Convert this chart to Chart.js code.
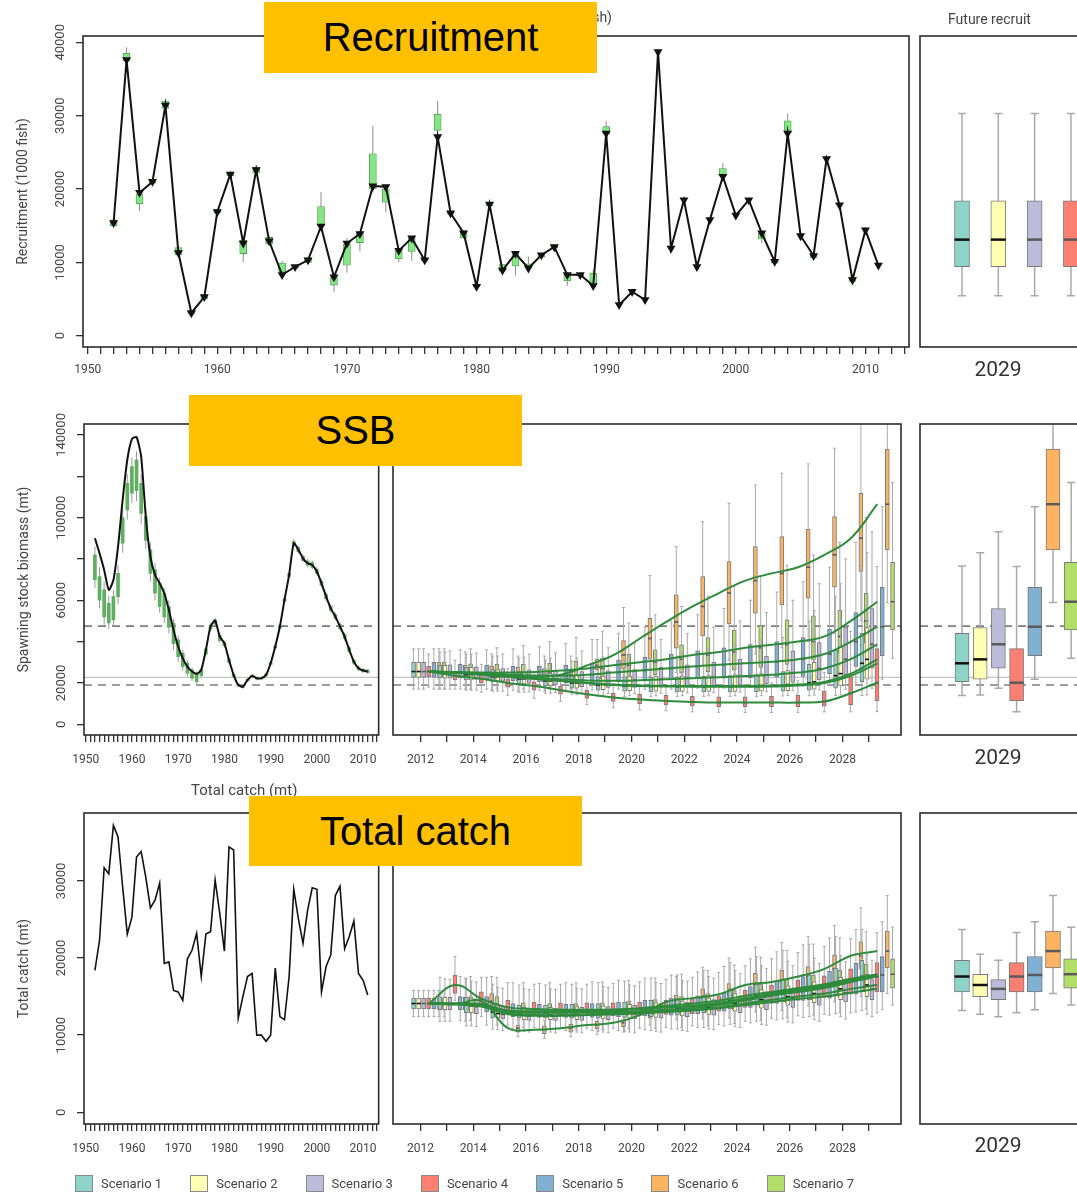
<!DOCTYPE html>
<html>
<head>
<meta charset="utf-8">
<title>Recruitment, SSB and total catch projections</title>
<script src="https://cdn.jsdelivr.net/npm/chart.js@4.4.1/dist/chart.umd.min.js"></script>
<style>
  html, body { margin: 0; padding: 0; background: #fff; }
  body { position: relative; width: 1077px; height: 1193px; overflow: hidden; font-family: Roboto, "Open Sans", sans-serif; color: #3a3a3a; }
  .pane { position: absolute; }
  .tag { position: absolute; background: #ffc000; color: #000; font: 40px "Liberation Sans", Arial, sans-serif; display: flex; align-items: center; justify-content: center; z-index: 5; }
  .txt { position: absolute; white-space: nowrap; font-size: 14px; color: #444; }
  .yr { position: absolute; left: 958px; width: 80px; text-align: center; font-size: 21px; color: #333; }
  #legend { position: absolute; left: 75px; top: 1175px; display: flex; font-size: 13px; color: #444; }
  #legend div { width: 115.3px; display: flex; align-items: center; }
  #legend span { display: inline-block; width: 18px; height: 17px; border: 1px solid #8a8a8a; box-sizing: border-box; margin-right: 8px; }
</style>
</head>
<body>
<div class="pane" style="left:0;top:0"><canvas id="recHist" width="915" height="392"></canvas></div>
<div class="pane" style="left:905px;top:0"><canvas id="recFut" width="300" height="392"></canvas></div>
<div class="pane" style="left:0;top:392px"><canvas id="ssbHist" width="388" height="400"></canvas></div>
<div class="pane" style="left:388px;top:392px"><canvas id="ssbProj" width="520" height="400"></canvas></div>
<div class="pane" style="left:905px;top:392px"><canvas id="ssbFut" width="300" height="400"></canvas></div>
<div class="pane" style="left:0;top:795px"><canvas id="catchHist" width="388" height="398"></canvas></div>
<div class="pane" style="left:388px;top:795px"><canvas id="catchProj" width="520" height="398"></canvas></div>
<div class="pane" style="left:905px;top:795px"><canvas id="catchFut" width="300" height="398"></canvas></div>

<div class="txt" style="right:465px;top:9px">Recruitment (1000 fish)</div>
<div class="txt" style="left:948px;top:11px">Future recruit</div>
<div class="txt" style="left:191px;top:781px;font-size:15px">Total catch (mt)</div>
<div class="yr" style="top:357px">2029</div>
<div class="yr" style="top:745px">2029</div>
<div class="yr" style="top:1133px">2029</div>

<div class="tag" style="left:264px;top:2px;width:333px;height:71px">Recruitment</div>
<div class="tag" style="left:189px;top:395px;width:333px;height:71px">SSB</div>
<div class="tag" style="left:249px;top:796px;width:333px;height:70px">Total catch</div>

<div id="legend"></div>

<script>
// ---------- data (thousands: fish for recruitment, mt for SSB and catch) ----------
const histYears = [1952,1953,1954,1955,1956,1957,1958,1959,1960,1961,1962,1963,1964,1965,1966,1967,1968,1969,1970,1971,
  1972,1973,1974,1975,1976,1977,1978,1979,1980,1981,1982,1983,1984,1985,1986,1987,1988,1989,1990,1991,
  1992,1993,1994,1995,1996,1997,1998,1999,2000,2001,2002,2003,2004,2005,2006,2007,2008,2009,2010,2011]
const histTickLabels = [1950,1960,1970,1980,1990,2000,2010]
const projYears = [2012,2013,2014,2015,2016,2017,2018,2019,2020,2021,2022,2023,2024,2025,2026,2027,2028,2029]
const projTickLabels = [2012,2014,2016,2018,2020,2022,2024,2026,2028]
const scenarioNames = ["Scenario 1","Scenario 2","Scenario 3","Scenario 4","Scenario 5","Scenario 6","Scenario 7"]
const scenarioColors = ["#8dd3c7","#ffffb3","#bebada","#fb8072","#80b1d3","#fdb462","#b3de69"]
const scenarioPos = [1,2,3,4,5,6,7]

const recTicks = [0,10,20,30,40]
const ssbTicks = [0,20,40,60,80,100,120,140]
const ssbTickLabels = [0,20,60,100,140]
const catchTicks = [0,10,20,30]
const ssbRefPoints = [47.5, 19.0]
const ssbRefLimit = 22.7

// recruitment 1952-2011
const recEst = [15.4,37.6,19.5,21.0,31.4,11.3,3.1,5.3,16.9,22.0,12.6,22.6,12.9,8.3,9.4,10.3,14.9,8.0,12.6,13.9,
  20.4,20.3,11.6,13.3,10.3,27.1,16.7,14.0,6.7,17.9,8.9,11.2,9.2,11.0,12.1,8.3,8.3,6.8,27.6,4.2,
  6.0,4.9,38.7,11.9,18.5,9.4,15.8,21.7,16.4,18.5,14.0,10.1,27.6,13.6,10.9,24.1,17.8,7.6,14.4,9.6]
const recQ1 = [15.0,37.5,18.0,20.8,31.0,11.0,3.0,5.0,16.7,21.8,11.2,22.2,12.5,8.7,9.2,10.0,15.0,6.9,9.6,12.7,
  20.0,18.2,10.5,11.5,10.2,28.0,16.6,13.3,6.7,17.7,8.8,9.5,9.2,10.7,12.0,7.5,8.2,7.0,27.5,null,
  null,null,null,null,null,null,null,21.8,null,null,13.2,9.9,27.6,null,10.6,null,null,7.4,null,null]
const recQ3 = [15.8,38.5,19.3,21.3,32.0,12.0,3.4,5.5,17.2,22.2,13.0,23.0,13.4,9.9,9.6,10.6,17.6,8.0,12.5,14.0,
  24.8,20.0,11.6,13.3,10.6,30.2,16.9,14.3,7.0,18.2,9.7,11.2,9.8,11.2,12.4,8.5,8.5,8.5,28.5,null,
  null,null,null,null,null,null,null,22.8,null,null,14.0,10.3,29.3,null,11.0,null,null,8.0,null,null]
const recLo = [15.0,36.5,17.0,20.8,31.0,11.0,3.0,5.0,16.7,21.8,10.0,22.2,12.5,8.7,9.2,10.0,14.5,6.0,8.6,11.5,
  19.5,16.8,10.0,10.2,10.2,27.5,16.6,13.3,6.7,17.7,8.8,8.2,9.2,10.7,12.0,6.8,8.2,7.0,27.5,null,
  null,null,null,null,null,null,null,21.8,null,null,12.6,9.9,27.6,null,10.6,null,null,7.4,null,null]
const recHi = [15.8,39.3,19.3,21.3,32.2,12.0,3.4,5.5,17.2,22.2,13.2,23.2,13.6,10.2,9.6,10.6,19.6,8.0,13.3,14.2,
  28.6,20.2,11.6,13.5,10.6,32.0,16.9,14.3,7.0,18.4,9.7,11.2,10.8,11.2,12.4,8.5,8.5,9.0,29.3,null,
  null,null,null,null,null,null,null,23.5,null,null,14.0,10.3,30.3,null,11.0,null,null,8.0,null,null]

// future recruitment (2029), one box per scenario
const recFutLo = [5.45,5.45,5.45,5.45,5.45,5.45,5.45]
const recFutQ1 = [9.4,9.4,9.4,9.4,9.4,9.4,9.4]
const recFutMed = [13.1,13.1,13.1,13.1,13.1,13.1,13.1]
const recFutQ3 = [18.4,18.4,18.4,18.4,18.4,18.4,18.4]
const recFutHi = [30.3,30.3,30.3,30.3,30.3,30.3,30.3]

// spawning stock biomass 1952-2011
const ssbEst = [90.0,82.7,74.7,65.0,69.8,86.0,108.6,128.0,138.0,139.0,129.5,100.5,81.1,72.3,68.2,63.4,55.3,45.6,37.6,31.9,
  27.9,25.5,24.4,26.3,36.0,47.3,50.2,42.4,39.2,31.1,23.9,19.0,18.2,21.4,23.4,22.3,22.3,23.9,29.5,37.6,
  47.3,60.2,72.3,87.6,84.4,80.3,77.9,77.1,73.9,68.2,61.8,56.1,52.1,47.3,42.4,36.0,30.3,27.1,26.0,25.5]
const ssbHistQ1 = [70,60,52,49,50.5,61.8,87.6,103.7,111.8,113,102,89,73,63.4,57,52,47,39,32.7,27.9,
  24.7,22.3,20.6,23.5,34,46,48.5,40.5,38,30,23,18.5,17.7,21,23,21.8,21.8,23.5,29,37,
  46.5,59.5,71.5,86.5,83.5,79.3,77,76,73,67.3,60.8,55.2,51.2,46.4,41.5,35.2,29.6,26.5,25.4,25]
const ssbHistQ3 = [82,71.5,65,58.5,61.8,73,100,116.6,124.7,128,116.6,100.5,84.4,74.7,68.2,63.4,57,48.9,40.8,34.4,
  29.5,26.3,24.7,26.5,36.5,48,50.5,43,39.5,31.5,24.2,19.5,18.6,21.8,23.8,22.6,22.6,24.3,30,38,
  47.8,60.8,73,88.5,85.5,81.3,79,78.2,75,69.2,62.8,57.1,53.1,48.2,43.4,37,31,27.7,26.6,26.2]
const ssbHistLo = [66,56,48,46,47,58,83,99,107,108,97,85,69,60,54,49,44,36,30,26,
  23,21,19.5,22.5,33,45,47.5,39.5,37,29,22.3,18,17.2,20.5,22.5,21.3,21.3,23,28.5,36.4,
  46,58.8,70.8,85.5,82.5,78.3,76,75,72,66.3,59.8,54.2,50.2,45.4,40.5,34.3,28.8,25.8,24.8,24.4]
const ssbHistHi = [86,76,69,62,65,77,104,121,129,132,121,104,88,78,71,66,60,51,43,36,
  31,27.5,25.5,27.3,37.3,49,51.5,44,40.5,32.3,25,20,19,22.3,24.3,23,23,24.8,30.5,38.6,
  48.5,61.5,73.8,89.5,86.5,82.3,80,79.2,76,70.2,63.8,58.1,54.1,49.2,44.4,38,31.8,28.4,27.2,26.8]

// SSB projections 2012-2029, one row per scenario
const ssbMed = [
  [25.5,25.0,24.0,23.0,22.0,21.0,20.0,19.0,18.5,18.3,18.2,18.2,18.2,18.3,18.8,20.0,23.5,29.5],
  [25.5,25.0,24.0,23.0,22.0,21.0,20.0,19.2,18.8,18.6,18.5,18.5,18.5,18.7,19.2,20.5,24.5,31.4],
  [25.5,25.0,24.2,23.3,22.5,21.8,21.2,21.0,21.3,21.8,22.3,22.8,23.3,23.9,25.0,27.0,31.5,38.7],
  [25.5,23.5,22.0,20.0,18.5,16.5,14.5,13.0,12.0,11.3,10.8,10.5,10.5,10.5,10.5,11.0,15.0,20.1],
  [25.5,25.0,24.5,24.0,23.5,23.5,24.0,25.0,26.0,27.0,28.0,28.8,29.5,30.2,31.5,34.0,40.0,47.2],
  [25.5,25.0,24.5,24.0,23.5,24.0,28.5,33.5,41.5,49.5,57.0,63.5,69.5,73.0,76.0,82.0,90.0,106.5],
  [25.5,25.3,25.0,25.0,25.3,26.0,27.0,28.5,30.0,31.5,33.5,35.0,37.0,38.5,40.0,42.5,50.0,59.3]]
const ssbQ1 = [
  [22.7,22.3,21.5,20.5,19.5,18.5,17.5,16.5,16.0,15.8,15.7,15.7,15.7,15.8,16.0,16.5,17.5,20.6],
  [22.7,22.3,21.5,20.5,19.5,18.5,17.5,16.7,16.2,16.0,15.9,15.9,15.9,16.0,16.3,17.0,18.5,21.8],
  [22.7,22.3,21.7,20.8,19.8,19.0,18.2,17.8,17.8,18.0,18.3,18.7,19.0,19.5,20.3,21.5,24.0,27.1],
  [23.0,21.5,20.0,18.0,16.5,14.5,12.5,11.0,10.0,9.3,8.8,8.5,8.5,8.5,8.5,8.7,9.5,11.4],
  [22.7,22.5,22.0,21.0,20.5,20.0,20.0,20.5,21.0,21.5,22.0,22.3,22.5,22.8,23.2,24.5,28.0,33.2],
  [22.7,22.3,21.8,21.0,20.5,21.8,26.3,26.6,31.5,36.8,42.7,48.5,53.7,57.7,61.0,66.3,73.9,84.4],
  [22.8,22.5,22.0,21.5,21.3,21.5,22.0,23.0,24.0,24.7,25.5,26.3,27.5,29.0,31.0,34.4,39.2,45.6]]
const ssbQ3 = [
  [30.0,28.5,27.5,26.5,25.5,24.5,23.5,23.0,23.0,23.0,23.0,23.2,23.5,24.0,25.5,29.0,36.0,44.0],
  [30.0,28.5,27.5,26.5,25.5,24.5,23.7,23.3,23.3,23.3,23.4,23.6,24.0,24.5,26.0,30.0,38.0,46.8],
  [30.0,28.7,27.8,27.0,26.3,25.8,25.5,25.8,26.5,27.5,28.7,30.0,31.5,33.0,35.5,39.5,47.0,56.0],
  [28.0,25.5,24.0,22.0,20.5,18.5,16.5,15.0,14.5,14.0,13.5,13.3,13.3,13.5,14.0,16.0,23.0,36.6],
  [30.0,29.0,28.5,28.0,28.0,28.5,29.5,31.0,32.5,34.0,35.5,37.0,38.5,40.0,42.0,46.0,54.0,66.3],
  [30.0,28.5,28.0,27.5,27.0,26.0,31.5,40.5,51.3,62.6,71.5,78.7,86.0,90.8,94.4,100.5,111.8,133.2],
  [30.0,29.3,29.0,29.0,29.5,30.5,32.0,34.0,36.0,38.4,42.0,45.6,48.0,50.5,52.5,55.3,63.4,78.4]]
const ssbLo = [
  [17.0,17.0,16.5,16.0,15.5,15.0,14.5,14.0,13.5,13.5,13.5,13.5,13.5,13.5,13.7,13.8,13.9,13.9],
  [17.0,17.0,16.5,16.0,15.5,15.0,14.5,14.0,13.8,13.8,13.8,13.8,13.8,13.8,14.0,14.1,14.2,14.2],
  [17.0,17.0,16.5,16.0,15.7,15.3,15.0,14.8,14.8,15.0,15.2,15.4,15.6,15.8,16.2,16.6,17.0,17.4],
  [18.0,17.0,15.5,14.0,12.5,11.0,9.5,8.0,7.0,6.5,6.0,5.8,5.7,5.7,5.8,6.0,6.0,6.1],
  [17.0,17.0,17.0,16.5,16.5,16.5,16.5,17.0,17.0,17.0,17.5,17.5,18.0,18.0,18.5,19.0,20.0,21.8],
  [17.0,17.0,16.5,16.0,16.0,17.0,19.0,20.0,23.0,25.0,28.0,31.0,34.0,37.0,40.0,44.0,50.0,58.9],
  [17.0,17.0,17.0,17.0,17.0,17.0,17.5,18.0,18.5,19.0,19.5,20.0,21.0,22.0,23.0,25.0,28.0,31.9]]
const ssbHi = [
  [36.5,35.0,34.0,33.0,32.0,31.0,30.5,30.5,31.0,32.0,33.0,34.0,36.0,38.0,42.0,50.0,62.0,76.6],
  [36.5,35.0,34.0,33.0,32.5,32.0,32.0,32.5,33.0,34.0,35.0,36.5,38.5,41.0,46.0,55.0,68.0,83.0],
  [36.5,35.5,34.5,34.0,34.0,34.5,35.5,37.0,39.0,41.0,44.0,47.0,50.0,54.0,60.0,68.0,80.0,93.2],
  [34.0,31.0,29.0,27.0,25.0,23.0,21.0,19.5,19.0,18.5,18.5,18.5,19.0,20.0,21.0,25.0,45.0,76.3],
  [36.5,36.0,36.0,36.5,37.5,39.0,41.0,44.0,47.0,50.0,53.0,56.0,60.0,64.0,69.0,76.0,88.0,105.3],
  [36.5,35.0,34.0,33.0,33.0,33.0,41.0,56.5,72.0,86.0,98.0,107.0,115.8,121.5,126.0,133.6,150.0,150.0],
  [36.5,36.5,37.0,38.0,40.0,42.0,45.0,49.0,53.0,57.0,62.0,67.0,72.0,77.0,82.0,88.0,100.0,117.0]]

// total catch 1952-2011
const catchHist = [18.4,22.3,31.7,30.9,37.2,35.7,29.2,23.1,25.3,33.1,33.8,30.5,26.5,27.5,29.7,19.3,19.5,15.8,15.6,14.5,
  19.9,21.0,23.2,17.6,23.1,23.4,30.1,25.8,20.9,34.4,34.0,12.2,15.0,17.6,18.0,10.0,10.0,9.2,10.0,18.7,
  12.4,12.0,17.6,28.9,25.1,21.9,26.2,29.1,28.9,15.6,18.9,20.4,28.1,29.3,21.2,22.8,24.8,18.0,17.1,15.2]

// total catch projections 2012-2029, one row per scenario
const catchMed = [
  [14.1,14.1,13.9,13.0,12.9,12.9,13.0,13.0,13.1,13.3,13.5,13.9,14.5,15.1,15.6,16.1,16.9,17.6],
  [14.1,14.0,13.8,12.8,12.6,12.6,12.7,12.8,12.9,13.1,13.3,13.6,14.1,14.6,15.0,15.4,16.0,16.5],
  [14.1,14.0,13.7,12.7,12.5,12.5,12.6,12.7,12.8,13.0,13.2,13.5,13.9,14.3,14.7,15.0,15.5,16.0],
  [14.1,16.5,14.7,13.6,13.4,13.3,13.3,13.3,13.4,13.6,13.7,14.1,14.7,15.3,15.8,16.3,17.0,17.6],
  [14.1,14.1,14.0,13.1,13.0,13.0,13.1,13.2,13.4,13.6,13.8,14.2,14.8,15.4,15.9,16.4,17.2,17.8],
  [14.1,14.0,14.4,10.9,10.7,10.9,11.3,11.6,12.6,14.3,14.8,15.3,16.5,16.9,17.6,18.6,20.3,20.9],
  [14.1,14.1,14.0,13.2,13.1,13.1,13.2,13.3,13.5,13.8,14.1,14.5,15.1,15.6,16.1,16.6,17.3,17.9]]
const catchQ1 = [
  [13.4,13.3,12.9,12.3,12.2,12.2,12.2,12.2,12.3,12.4,12.6,12.9,13.4,13.9,14.3,14.6,15.2,15.6],
  [13.4,13.3,12.9,12.2,12.0,12.0,12.0,12.1,12.2,12.3,12.5,12.7,13.1,13.5,13.9,14.2,14.6,15.0],
  [13.4,13.3,12.8,12.1,11.9,11.9,11.9,12.0,12.1,12.2,12.4,12.6,12.9,13.3,13.6,13.9,14.3,14.6],
  [13.4,15.4,13.8,12.8,12.6,12.5,12.5,12.5,12.6,12.7,12.8,13.1,13.6,14.1,14.5,14.9,15.3,15.6],
  [13.4,13.3,13.0,12.4,12.3,12.3,12.3,12.4,12.5,12.6,12.8,13.1,13.6,14.1,14.5,14.8,15.3,15.6],
  [13.4,13.3,13.7,10.4,10.2,10.4,10.8,11.1,12.2,13.5,13.7,13.9,15.2,15.4,16.3,16.9,18.6,18.7],
  [13.4,13.3,13.0,12.5,12.4,12.4,12.4,12.5,12.6,12.8,13.0,13.3,13.8,14.2,14.6,15.0,15.6,16.1]]
const catchQ3 = [
  [14.8,15.0,14.9,14.0,13.9,13.9,14.0,14.1,14.3,14.5,14.8,15.2,16.0,16.6,17.2,17.8,18.7,19.7],
  [14.8,14.9,14.8,13.8,13.6,13.6,13.7,13.8,14.0,14.2,14.4,14.8,15.4,15.9,16.4,16.9,17.5,17.9],
  [14.8,14.9,14.7,13.7,13.5,13.5,13.6,13.7,13.9,14.1,14.3,14.6,15.1,15.6,16.0,16.4,16.9,17.2],
  [14.8,17.8,15.6,14.5,14.3,14.2,14.2,14.2,14.3,14.5,14.7,15.1,15.8,16.5,17.1,17.7,18.6,19.4],
  [14.8,15.0,15.0,14.1,14.0,14.0,14.1,14.3,14.5,14.8,15.1,15.5,16.3,17.0,17.6,18.3,19.3,20.2],
  [14.8,14.9,15.4,11.3,11.2,11.4,11.8,12.0,13.0,15.2,16.0,16.7,18.0,18.4,18.9,20.4,22.1,23.5],
  [14.8,15.0,15.0,14.2,14.1,14.1,14.2,14.4,14.6,15.0,15.4,15.8,16.6,17.2,17.8,18.4,19.2,19.9]]
const catchLo = [
  [12.4,11.8,11.2,10.8,10.6,10.5,10.5,10.5,10.5,10.6,10.8,11.0,11.4,11.8,12.1,12.4,12.8,13.2],
  [12.4,11.8,11.2,10.7,10.5,10.4,10.4,10.4,10.4,10.5,10.6,10.8,11.1,11.4,11.7,12.0,12.4,12.7],
  [12.4,11.8,11.1,10.6,10.4,10.3,10.3,10.3,10.3,10.4,10.5,10.7,11.0,11.3,11.6,11.8,12.1,12.4],
  [12.4,14.5,12.4,11.3,11.0,10.9,10.9,10.9,10.9,11.0,11.2,11.4,11.8,12.2,12.5,12.7,12.9,12.9],
  [12.4,11.9,11.3,10.9,10.7,10.6,10.6,10.6,10.7,10.8,11.0,11.2,11.6,12.0,12.3,12.6,13.0,13.3],
  [12.4,11.8,12.2,9.8,9.6,9.8,10.1,10.4,11.3,12.0,12.1,12.2,13.0,13.2,13.8,14.3,15.0,15.4],
  [12.4,11.9,11.3,11.0,10.8,10.7,10.7,10.8,10.9,11.0,11.2,11.5,11.9,12.3,12.6,12.9,13.4,13.9]]
const catchHi = [
  [15.8,17.5,17.3,16.6,16.5,16.5,16.6,16.8,17.0,17.4,17.8,18.4,19.4,20.2,21.0,21.8,22.8,23.7],
  [15.8,17.3,17.0,16.2,16.0,16.0,16.1,16.3,16.5,16.8,17.1,17.6,18.4,19.0,19.6,20.0,20.3,20.5],
  [15.8,17.2,16.9,16.1,15.9,15.9,16.0,16.2,16.4,16.7,17.0,17.4,18.0,18.6,19.0,19.3,19.5,19.7],
  [15.8,20.2,17.5,16.8,16.6,16.6,16.6,16.7,16.9,17.2,17.5,18.1,19.0,19.9,20.7,21.5,22.5,23.3],
  [15.8,17.6,17.5,16.8,16.7,16.8,16.9,17.1,17.4,17.8,18.2,18.9,19.9,20.8,21.7,22.6,23.7,24.7],
  [15.8,17.4,17.6,12.0,11.9,12.1,12.5,12.9,14.5,17.6,18.8,20.0,21.4,22.0,22.8,24.2,26.5,28.1],
  [15.8,17.6,17.5,16.8,16.8,16.8,16.9,17.1,17.4,17.9,18.4,19.1,20.1,21.0,21.8,22.6,23.4,24.0]]

// ---------- layout helpers ----------
const FONT = "Roboto, 'Open Sans', sans-serif"
const groupOffsets = [-0.26, -0.07, 0.12, 0.31, 0.51, 0.70, 0.90]
const lastOf = rows => rows.map(r => r[r.length - 1])

const histTicks = []
for (let yr = 1950; yr <= 2013; yr++) histTicks.push(yr)

// frame around every plot region
const frame = {
  id: "frame",
  afterDraw(chart) {
    const { ctx, chartArea: a } = chart
    ctx.save()
    ctx.strokeStyle = "#2b2b2b"
    ctx.lineWidth = 1.6
    ctx.strokeRect(a.left, a.top, a.right - a.left, a.bottom - a.top)
    ctx.restore()
  },
}

// whiskers before each box dataset, medians after it
const whiskers = {
  id: "whiskers",
  beforeDatasetDraw(chart, args) {
    const ds = chart.data.datasets[args.index]
    if (!ds.lo) return
    const { ctx, chartArea: a, scales: { x, y } } = chart
    ctx.save()
    ctx.beginPath()
    ctx.rect(a.left, a.top, a.right - a.left, a.bottom - a.top)
    ctx.clip()
    ctx.strokeStyle = ds.whiskerColor
    ctx.lineWidth = ds.whiskerWidth
    ds.data.forEach((d, i) => {
      if (d.y == null || ds.lo[i] == null) return
      const px = x.getPixelForValue(d.x)
      const pl = y.getPixelForValue(ds.lo[i])
      const ph = y.getPixelForValue(ds.hi[i])
      ctx.beginPath()
      ctx.moveTo(px, pl)
      ctx.lineTo(px, ph)
      if (ds.cap) {
        ctx.moveTo(px - ds.cap, pl); ctx.lineTo(px + ds.cap, pl)
        ctx.moveTo(px - ds.cap, ph); ctx.lineTo(px + ds.cap, ph)
      }
      ctx.stroke()
    })
    ctx.restore()
  },
  afterDatasetDraw(chart, args) {
    const ds = chart.data.datasets[args.index]
    if (!ds.med) return
    const { ctx, scales: { x, y } } = chart
    ctx.save()
    ctx.strokeStyle = ds.medColor
    ctx.lineWidth = ds.medWidth
    ds.data.forEach((d, i) => {
      const px = x.getPixelForValue(d.x)
      const pm = y.getPixelForValue(ds.med[i])
      ctx.beginPath()
      ctx.moveTo(px - ds.barThickness / 2, pm)
      ctx.lineTo(px + ds.barThickness / 2, pm)
      ctx.stroke()
    })
    ctx.restore()
  },
}

// rotated y tick labels and y title (R style)
const axisText = (labels, title) => ({
  id: "axisText",
  afterDraw(chart) {
    const { ctx, chartArea: a, scales: { y } } = chart
    ctx.save()
    ctx.fillStyle = "#444"
    ctx.textAlign = "center"
    ctx.textBaseline = "middle"
    ctx.font = "13px " + FONT
    labels.forEach(v => {
      ctx.save()
      ctx.translate(a.left - 22, y.getPixelForValue(v))
      ctx.rotate(-Math.PI / 2)
      ctx.fillText(String(v * 1000), 0, 0)
      ctx.restore()
    })
    ctx.font = "14px " + FONT
    ctx.translate(a.left - 60, (a.top + a.bottom) / 2)
    ctx.rotate(-Math.PI / 2)
    ctx.fillText(title, 0, 0)
    ctx.restore()
  },
})

// SSB reference points
const refLines = {
  id: "refLines",
  beforeDatasetsDraw(chart) {
    const { ctx, chartArea: a, scales: { y } } = chart
    ctx.save()
    ctx.strokeStyle = "#c4c4c4"
    ctx.lineWidth = 1.2
    let py = y.getPixelForValue(ssbRefLimit)
    ctx.beginPath(); ctx.moveTo(a.left, py); ctx.lineTo(a.right, py); ctx.stroke()
    ctx.strokeStyle = "#7d7d7d"
    ctx.lineWidth = 1.6
    ctx.setLineDash([8, 6])
    ssbRefPoints.forEach(v => {
      py = y.getPixelForValue(v)
      ctx.beginPath(); ctx.moveTo(a.left, py); ctx.lineTo(a.right, py); ctx.stroke()
    })
    ctx.restore()
  },
}

// x axes keep a fixed band under the frame for ticks and year labels
function histX(band, labelPad) {
  return {
    type: "linear", min: 1949.64, max: 2013.36, bounds: "data", offset: false,
    afterBuildTicks: s => { s.ticks = histTicks.map(v => ({ value: v })) },
    afterFit: s => { s.height = band },
    grid: { offset: false, drawOnChartArea: false, tickLength: 7, color: "#333", lineWidth: 1.3 },
    border: { display: false },
    ticks: { autoSkip: false, maxRotation: 0, minRotation: 0, padding: labelPad, color: "#444", font: { size: 12, family: FONT },
      callback: v => histTickLabels.includes(v) ? String(v) : "" },
  }
}

function projX(band, labelPad) {
  return {
    type: "linear", min: 2010.96, max: 2030.22, bounds: "data", offset: false,
    afterBuildTicks: s => { s.ticks = projYears.map(v => ({ value: v })) },
    afterFit: s => { s.height = band },
    grid: { offset: false, drawOnChartArea: false, tickLength: 7, color: "#333", lineWidth: 1.3 },
    border: { display: false },
    ticks: { autoSkip: false, maxRotation: 0, minRotation: 0, padding: labelPad, color: "#444", font: { size: 12, family: FONT },
      callback: v => projTickLabels.includes(v) ? String(v) : "" },
  }
}

function histY(min, max, ticks) {
  return {
    type: "linear", min, max, bounds: "data",
    afterBuildTicks: s => { s.ticks = ticks.map(v => ({ value: v })) },
    afterFit: s => { s.width = 0 },
    grid: { drawOnChartArea: false, tickLength: 7, color: "#333", lineWidth: 1.3 },
    border: { display: false },
    ticks: { display: false },
  }
}

const hidden = (min, max) => ({ type: "linear", display: false, min, max, bounds: "data", offset: false, grid: { offset: false } })

function boxSet(xs, q1, q3, lo, hi, med, style) {
  return Object.assign({
    type: "bar",
    data: xs.map((x, i) => ({ x, y: q1[i] == null ? null : [q1[i], q3[i]] })),
    borderSkipped: false, grouped: false, order: 2,
    lo, hi, med,
  }, style)
}

function scenarioBoxes(xs, s, lo, q1, med, q3, hi, width, cap, medWidth) {
  return boxSet(xs, q1, q3, lo, hi, med, {
    label: scenarioNames[s],
    backgroundColor: scenarioColors[s], borderColor: "#7a7a7a", borderWidth: 1,
    barThickness: width, cap, whiskerColor: "#a9a9a9", whiskerWidth: width > 8 ? 1.5 : 1,
    medColor: s < 2 ? "#111" : "#5a5a5a", medWidth,
  })
}

function medianLine(xs, med) {
  return { type: "line", data: xs.map((x, i) => ({ x, y: med[i] })), borderColor: "#2e8b3c", borderWidth: 2,
    pointRadius: 0, tension: 0.4, order: 0 }
}

function makeChart(id, padding, scales, datasets, extra) {
  return new Chart(document.getElementById(id), {
    type: "bar",
    data: { datasets },
    options: {
      responsive: false, animation: false, events: [],
      layout: { padding },
      plugins: { legend: { display: false }, tooltip: { enabled: false } },
      scales,
    },
    plugins: [whiskers, frame].concat(extra || []),
  })
}

// ---------- recruitment ----------
makeChart("recHist", { left: 83, top: 36, right: 3, bottom: 5 },
  { x: histX(40, 9), y: histY(-1.54, 40.86, recTicks) },
  [
    { type: "line", data: histYears.map((x, i) => ({ x, y: recEst[i] })), borderColor: "#111", borderWidth: 2,
      pointStyle: "triangle", rotation: 180, pointRadius: 3.2, pointBackgroundColor: "#111", pointBorderColor: "#111", order: 0 },
    boxSet(histYears, recQ1, recQ3, recLo, recHi, null,
      { backgroundColor: "#86e686", borderColor: "#4f9f4f", borderWidth: 0.8, barThickness: 7, whiskerColor: "#8c8c8c", whiskerWidth: 1 }),
  ],
  [axisText(recTicks, "Recruitment (1000 fish)")])

makeChart("recFut", { left: 15, top: 36, right: 15, bottom: 45 },
  { x: hidden(-0.157, 7.28), y: hidden(-1.54, 40.86) },
  scenarioPos.map((p, s) => scenarioBoxes([p], s, [recFutLo[s]], [recFutQ1[s]], [recFutMed[s]], [recFutQ3[s]], [recFutHi[s]], 15, 4, 2.5)))

// ---------- SSB ----------
makeChart("ssbHist", { left: 84, top: 32, right: 3, bottom: 7 },
  { x: histX(50, 11), y: histY(-5.2, 145.3, ssbTicks) },
  [
    { type: "line", data: histYears.map((x, i) => ({ x, y: ssbEst[i] })), borderColor: "#111", borderWidth: 2,
      pointRadius: 0, tension: 0.2, order: 0 },
    boxSet(histYears, ssbHistQ1, ssbHistQ3, ssbHistLo, ssbHistHi, null,
      { backgroundColor: "#5fae62", borderColor: "#5fae62", borderWidth: 0, barThickness: 3, whiskerColor: "#9a9a9a", whiskerWidth: 1 }),
  ],
  [refLines, axisText(ssbTickLabels, "Spawning stock biomass (mt)")])

const projMid = projYears.map(y => y + 0.32)

makeChart("ssbProj", { left: 5, top: 32, right: 7, bottom: 7 },
  { x: projX(50, 11), y: hidden(-5.2, 145.3) },
  scenarioPos.map((p, s) => medianLine(projMid, ssbMed[s])).concat(
    scenarioPos.map((p, s) => scenarioBoxes(projYears.map(y => y + groupOffsets[s]), s,
      ssbLo[s], ssbQ1[s], ssbMed[s], ssbQ3[s], ssbHi[s], 4, 1.5, 1.6))),
  [refLines])

makeChart("ssbFut", { left: 15, top: 32, right: 15, bottom: 57 },
  { x: hidden(-1.308, 13.53), y: hidden(-5.2, 145.3) },
  scenarioPos.map((p, s) => scenarioBoxes([p], s, [lastOf(ssbLo)[s]], [lastOf(ssbQ1)[s]], [lastOf(ssbMed)[s]],
    [lastOf(ssbQ3)[s]], [lastOf(ssbHi)[s]], 14, 4, 2.5)),
  [refLines])

// ---------- total catch ----------
makeChart("catchHist", { left: 84, top: 18, right: 3, bottom: 19 },
  { x: histX(50, 11), y: histY(-1.52, 38.8, catchTicks) },
  [
    { type: "line", data: histYears.map((x, i) => ({ x, y: catchHist[i] })), borderColor: "#111", borderWidth: 1.6,
      pointRadius: 0, order: 0 },
  ],
  [axisText(catchTicks, "Total catch (mt)")])

makeChart("catchProj", { left: 5, top: 18, right: 7, bottom: 19 },
  { x: projX(50, 11), y: hidden(-1.52, 38.8) },
  scenarioPos.map((p, s) => medianLine(projMid, catchMed[s])).concat(
    scenarioPos.map((p, s) => scenarioBoxes(projYears.map(y => y + groupOffsets[s]), s,
      catchLo[s], catchQ1[s], catchMed[s], catchQ3[s], catchHi[s], 4, 1.5, 1.6))))

makeChart("catchFut", { left: 15, top: 18, right: 15, bottom: 69 },
  { x: hidden(-1.308, 13.53), y: hidden(-1.52, 38.8) },
  scenarioPos.map((p, s) => scenarioBoxes([p], s, [lastOf(catchLo)[s]], [lastOf(catchQ1)[s]], [lastOf(catchMed)[s]],
    [lastOf(catchQ3)[s]], [lastOf(catchHi)[s]], 15, 4, 2.5)))

// ---------- legend ----------
const legend = document.getElementById("legend")
scenarioNames.forEach((name, s) => {
  const item = document.createElement("div")
  const sw = document.createElement("span")
  sw.style.background = scenarioColors[s]
  item.appendChild(sw)
  item.appendChild(document.createTextNode(name))
  legend.appendChild(item)
})
</script>
</body>
</html>
